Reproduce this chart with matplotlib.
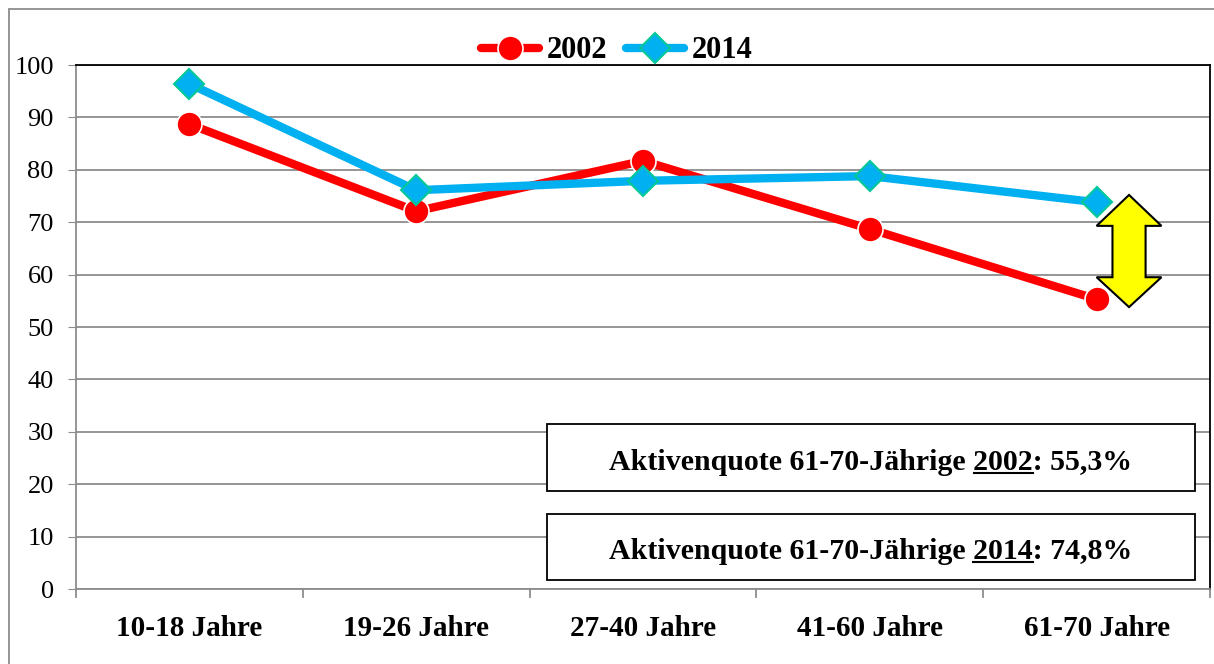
import matplotlib.pyplot as plt
import matplotlib.patches as patches
from matplotlib.lines import Line2D

categories = ["10-18 Jahre", "19-26 Jahre", "27-40 Jahre", "41-60 Jahre", "61-70 Jahre"]
quote_2002 = [88.7, 72.1, 81.7, 68.7, 55.3]
quote_2014 = [96.4, 76.1, 77.9, 78.8, 73.8]
yticks = list(range(0, 101, 10))

plt.rcParams['font.family'] = ['Liberation Serif', 'DejaVu Serif']

W, H = 1214, 664
fig = plt.figure(figsize=(W / 100, H / 100), dpi=100)

# outer chart frame (only left and top are visible)
fig.add_artist(patches.Rectangle((9 / W, -0.1), 1.2, 1.1 - 9 / H, transform=fig.transFigure,
                                 fill=False, edgecolor='#8c8c8c', linewidth=1.3))

ax = fig.add_axes([76 / W, 1 - 589 / H, (1210 - 76) / W, (589 - 65) / H])
x = list(range(len(categories)))

ax.set_xlim(-0.5, len(categories) - 0.5)
ax.set_ylim(0, 100)
ax.set_yticks(yticks)
ax.set_yticklabels([str(v) for v in yticks], fontsize=19)
ax.set_xticks(x)
ax.set_xticklabels(categories, fontsize=21, fontweight='bold')
ax.tick_params(axis='x', length=0, pad=19)
ax.tick_params(axis='y', length=6, color='#8c8c8c', pad=10)
for b in [i - 0.5 for i in range(len(categories) + 1)]:
    ax.plot([b, b], [0, -1.5], color='#8c8c8c', linewidth=1.3, clip_on=False)
ax.grid(axis='y', color='#8c8c8c', linewidth=1.3)
ax.set_axisbelow(True)
ax.spines['left'].set_color('#8c8c8c')
ax.spines['bottom'].set_color('#8c8c8c')
for s in ['left', 'bottom', 'top', 'right']:
    ax.spines[s].set_linewidth(1.3)
ax.spines['top'].set_color('black')
ax.spines['right'].set_color('black')

ax.plot(x, quote_2002, color='#ff0000', linewidth=6, marker='o', markersize=18,
        markerfacecolor='#ff0000', markeredgecolor='white', markeredgewidth=1.2,
        solid_capstyle='round', label='2002', zorder=3)
ax.plot(x, quote_2014, color='#00b0f0', linewidth=6, marker='D', markersize=15,
        markerfacecolor='#00b0f0', markeredgecolor='#00c896', markeredgewidth=1.5,
        solid_capstyle='round', label='2014', zorder=4)

leg = ax.legend(loc='center', bbox_to_anchor=(0.477, 1.027), ncol=2, frameon=False,
                prop={'size': 22, 'weight': 'bold'}, handlelength=1.9, handletextpad=0.25,
                columnspacing=0.6, borderaxespad=0, borderpad=0)

# yellow double arrow
cx, hw, sw = 4.143, 0.143, 0.073
top, bot, s_top, s_bot = 75.2, 53.8, 69.3, 59.5
arrow_pts = [(cx, top), (cx + hw, s_top), (cx + sw, s_top), (cx + sw, s_bot),
             (cx + hw, s_bot), (cx, bot), (cx - hw, s_bot), (cx - sw, s_bot),
             (cx - sw, s_top), (cx - hw, s_top)]
ax.add_patch(patches.Polygon(arrow_pts, closed=True, facecolor='#ffff00',
                             edgecolor='black', linewidth=1.5, zorder=5))

# annotation boxes, year underlined by hand
renderer = fig.canvas.get_renderer()


def text_width(s, kw):
    t = ax.text(0, 0, s, **kw)
    w = t.get_window_extent(renderer).width
    t.remove()
    return w


def note_box(y0, y1, year, value):
    x0, x1 = (547 - 76) / (1210 - 76), (1195 - 76) / (1210 - 76)
    yb, yt = (589 - y1) / 524, (589 - y0) / 524
    ax.add_patch(patches.Rectangle((x0, yb), x1 - x0, yt - yb, transform=ax.transAxes,
                                   facecolor='white', edgecolor='black', linewidth=1.3,
                                   zorder=6))
    prefix = "Aktivenquote 61-70-Jährige "
    full = prefix + year + ": " + value
    kw = dict(transform=ax.transAxes, ha='left', va='baseline', fontsize=21.5,
              fontweight='bold', zorder=7)
    w_full = text_width(full, kw)
    w_py = text_width(prefix + year, kw)
    w_y = text_width(year, kw)
    px0, py0 = ax.transAxes.transform(((x0 + x1) / 2, (yb + yt) / 2))
    left = px0 - w_full / 2
    base = py0 - 12
    inv = ax.transAxes.inverted()
    lx, ly = inv.transform((left, base))
    ax.text(lx, ly, full, **kw)
    a0 = inv.transform((left + w_py - w_y, base - 3))
    a1 = inv.transform((left + w_py, base - 3))
    ax.add_line(Line2D([a0[0], a1[0]], [a0[1], a1[1]], transform=ax.transAxes,
                       color='black', linewidth=1.5, zorder=7))


note_box(424, 491, "2002", "55,3%")
note_box(514, 580, "2014", "74,8%")

fig.savefig("out.png", dpi=100)
